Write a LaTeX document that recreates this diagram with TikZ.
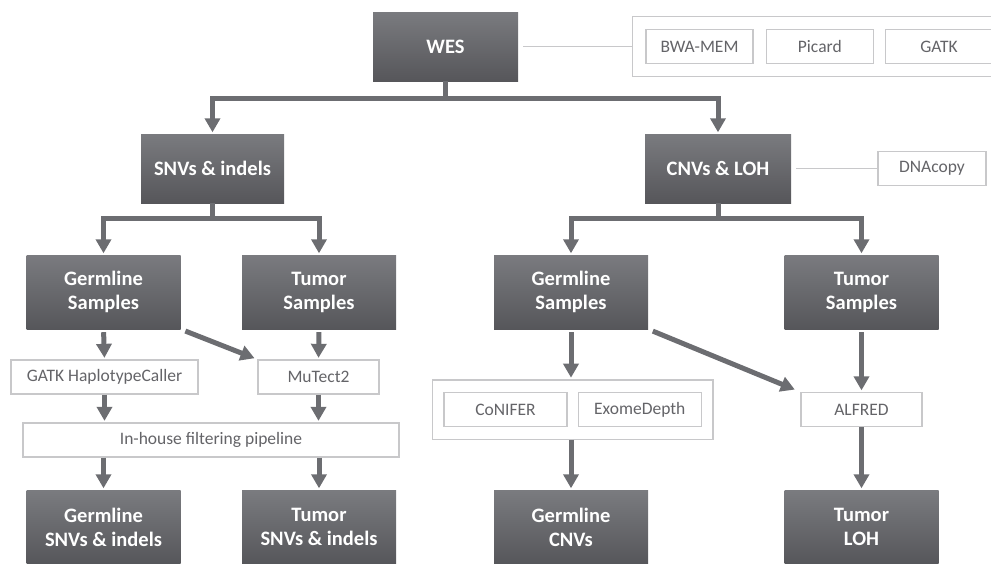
\documentclass[tikz,border=0pt]{standalone}
\usepackage{fontspec}
\setmainfont{Carlito}
\usepackage{tikz}
\usetikzlibrary{arrows.meta,calc,fit,positioning}

\definecolor{boxtop}{RGB}{122,123,127}
\definecolor{boxbot}{RGB}{86,86,90}
\definecolor{arrowgray}{RGB}{108,109,113}
\definecolor{toolline}{RGB}{200,200,202}
\definecolor{tooltext}{RGB}{100,100,104}

\begin{document}
\begin{tikzpicture}[
  x=1pt, y=-1pt,
  >={Triangle[length=14pt,width=15pt]},
  node distance=10pt and 11pt,
  stage/.style={rectangle, top color=boxtop, bottom color=boxbot, draw=none,
    text=white, align=center, inner sep=0pt,
    font=\bfseries\fontsize{20.5}{24}\selectfont,
    minimum width=154pt, minimum height=74pt},
  topstage/.style={stage, minimum width=145pt, minimum height=69pt},
  tool/.style={rectangle, draw=toolline, line width=1.3pt, fill=white,
    text=tooltext, inner sep=0pt, font=\fontsize{17.5}{20}\selectfont,
    minimum height=34pt},
  group/.style={rectangle, draw=toolline, line width=1.3pt},
  edge/.style={->, draw=arrowgray, line width=5pt, shorten >=1.5pt},
  link/.style={draw=toolline, line width=1.3pt}
]
\useasboundingbox (0,0) rectangle (991,563);
\clip (0,0) rectangle (991,563);

% ---- top level ----
\node[topstage] (wes) at (445.5,46.5) {WES};
\node[topstage, minimum width=143pt] (snv) at (212.5,168.5) {SNVs \& indels};
\node[topstage, minimum width=146pt] (cnv) at (718,168.5) {CNVs \& LOH};

% ---- alignment tools ----
\node[tool, minimum width=107pt] (bwa) at (699.5,46.5) {BWA-MEM};
\node[tool, minimum width=107pt] (picard) [right=12pt of bwa] {Picard};
\node[tool, minimum width=107pt] (gatk) [right=11pt of picard] {GATK};
\node[group, inner xsep=13pt, inner ysep=12.5pt, fit=(bwa) (picard) (gatk)] (aligners) {};
\node[tool, minimum width=108pt] (dnacopy) at (932,168.5) {DNAcopy};

% ---- samples ----
\node[stage] (germA) at (103.5,292) {Germline\\Samples};
\node[stage] (tumA) at (319,292) {Tumor\\Samples};
\node[stage] (germB) at (571,292) {Germline\\Samples};
\node[stage] (tumB) at (861.5,292) {Tumor\\Samples};

% ---- callers ----
\node[tool, minimum width=187pt] (haplo) at (104.5,377) {GATK HaplotypeCaller};
\node[tool, minimum width=121pt] (mutect) at (318.5,377) {MuTect2};
\node[tool, minimum width=376pt] (filter) at (211,440) {In-house filtering pipeline};
\node[tool, minimum width=123pt] (conifer) at (505.5,409.5) {CoNIFER};
\node[tool, minimum width=123pt] (exome) [right=10pt of conifer] {ExomeDepth};
\node[group, inner xsep=11pt, inner ysep=12pt, fit=(conifer) (exome)] (cnvcallers) {};
\node[tool, minimum width=121pt] (alfred) at (861.5,409.5) {ALFRED};

% ---- results ----
\node[stage] (germsnv) at (103.5,527) {Germline\\SNVs \& indels};
\node[stage] (tumsnv) at (319,527) {Tumor\\SNVs \& indels};
\node[stage] (germcnv) at (571,527) {Germline\\CNVs};
\node[stage] (tumloh) at (861.5,527) {Tumor\\LOH};

% ---- edges: tools ----
\draw[link, shorten <=5pt] (wes.east) -- (wes.east -| aligners.west);
\draw[link, shorten <=5pt] (cnv.east) -- (cnv.east -| dnacopy.west);

% ---- edges: branching ----
\draw[edge] (wes.south) -- ++(0,17) -| (snv.north);
\draw[edge] (wes.south) -- ++(0,17) -| (cnv.north);
\draw[edge] (snv.south) -- ++(0,15) -| (germA.north);
\draw[edge] (snv.south) -- ++(0,15) -| (tumA.north);
\draw[edge] (cnv.south) -- ++(0,15) -| (germB.north);
\draw[edge] (cnv.south) -- ++(0,15) -| (tumB.north);

% ---- edges: SNVs & indels ----
\draw[edge, shorten <=3pt] (germA.south) -- (haplo.north);
\draw[edge, shorten <=3pt] (tumA.south) -- (mutect.north);
\draw[edge, shorten <=5pt, shorten >=3pt] (germA.south east) -- (mutect.north west);
\draw[edge] (haplo.south) -- (haplo.south |- filter.north);
\draw[edge] (mutect.south) -- (mutect.south |- filter.north);
\draw[edge] (germsnv.north |- filter.south) -- (germsnv.north);
\draw[edge] (tumsnv.north |- filter.south) -- (tumsnv.north);

% ---- edges: CNVs & LOH ----
\draw[edge, shorten <=3pt] (germB.south) -- (germB.south |- cnvcallers.north);
\draw[edge, shorten <=3pt] (tumB.south) -- (alfred.north);
\draw[edge, shorten <=5pt, shorten >=6pt] (germB.south east) -- (alfred.north west);
\draw[edge] (germcnv.north |- cnvcallers.south) -- (germcnv.north);
\draw[edge] (alfred.south) -- (tumloh.north);

\end{tikzpicture}
\end{document}
